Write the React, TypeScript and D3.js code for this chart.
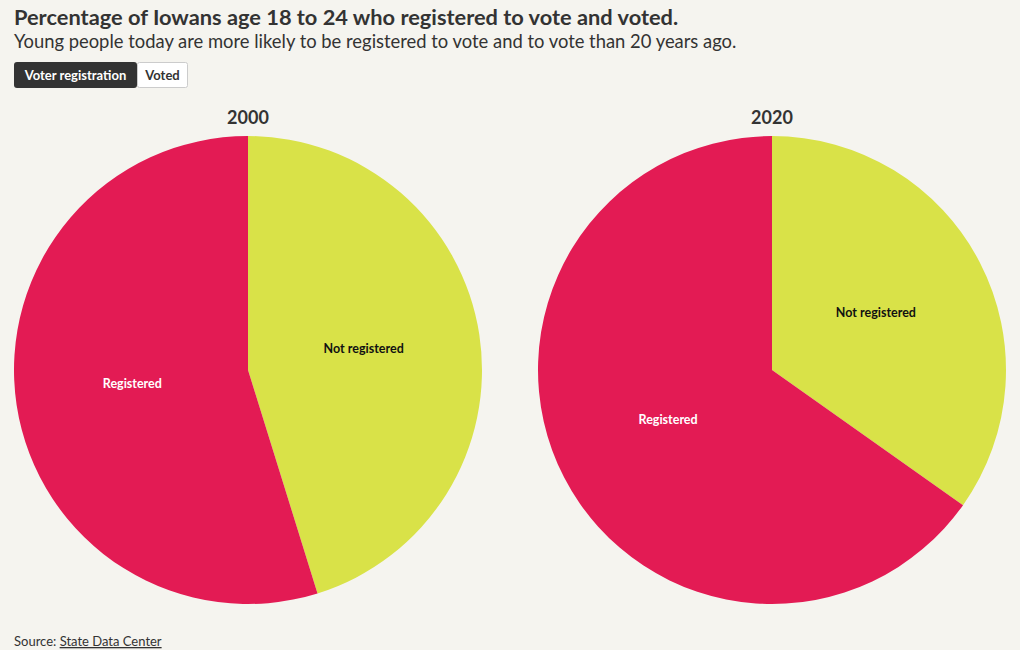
import * as d3 from "d3";

const years = ["2000", "2020"];
const categories = ["Not registered", "Registered"];
const notRegistered = [45.2, 34.8];
const registered = [54.8, 65.2];
const colors = ["#d9e248", "#e31b54"];
const labelColors = ["#111111", "#ffffff"];

const W = 1020;
const H = 650;
const FONT = "Lato, 'Open Sans', sans-serif";

export default function App() {
  const radius = 234;
  const centers = d3.scalePoint<string>().domain(years).range([248, 772]);
  const cy = 370;

  const pie = d3
    .pie<{ cat: string; value: number }>()
    .value((d) => d.value)
    .sort(null);
  const arc = d3
    .arc<d3.PieArcDatum<{ cat: string; value: number }>>()
    .innerRadius(0)
    .outerRadius(radius);

  return (
    <div
      style={{
        position: "absolute",
        left: 0,
        top: 0,
        width: W,
        height: H,
        background: "#f5f4ef",
        overflow: "hidden",
      }}
    >
      <svg width={W} height={H} style={{ display: "block", fontFamily: FONT }}>
        <rect width={W} height={H} fill="#f5f4ef" />
        <text x={14} y={25} fontSize={21.8} fontWeight={700} fill="#333">
          Percentage of Iowans age 18 to 24 who registered to vote and voted.
        </text>
        <text x={14} y={48} fontSize={18.4} fill="#333">
          Young people today are more likely to be registered to vote and to vote than 20 years ago.
        </text>

        {/* Buttons */}
        <rect x={14} y={62} width={123} height={26} rx={3} fill="#333" />
        <rect x={137.5} y={62.5} width={50} height={25} rx={2} fill="#fff" stroke="#ccc" />
        <text x={75.5} y={80} fontSize={13} fontWeight={700} fill="#fff" textAnchor="middle">
          Voter registration
        </text>
        <text x={162.5} y={80} fontSize={13} fontWeight={700} fill="#333" textAnchor="middle">
          Voted
        </text>

        {years.map((yr, i) => {
          const data = [
            { cat: categories[0], value: notRegistered[i] },
            { cat: categories[1], value: registered[i] },
          ];
          const arcs = pie(data);
          const cx = centers(yr) ?? 0;
          return (
            <g key={yr}>
              <text x={cx} y={124} fontSize={18} fontWeight={700} fill="#333" textAnchor="middle">
                {yr}
              </text>
              <g transform={`translate(${cx},${cy})`}>
                {arcs.map((a, j) => (
                  <path key={j} d={arc(a) ?? ""} fill={colors[j]} />
                ))}
                {arcs.map((a, j) => {
                  const [lx, ly] = arc.centroid(a);
                  return (
                    <text
                      key={"l" + j}
                      x={lx}
                      y={ly - 4}
                      dy="0.35em"
                      fontSize={12.5}
                      fontWeight={700}
                      fill={labelColors[j]}
                      textAnchor="middle"
                    >
                      {a.data.cat}
                    </text>
                  );
                })}
              </g>
            </g>
          );
        })}

        <text x={14} y={646} fontSize={13} fill="#333">
          Source:{" "}
          <tspan textDecoration="underline" style={{ textDecoration: "underline" }}>
            State Data Center
          </tspan>
        </text>
      </svg>
    </div>
  );
}
